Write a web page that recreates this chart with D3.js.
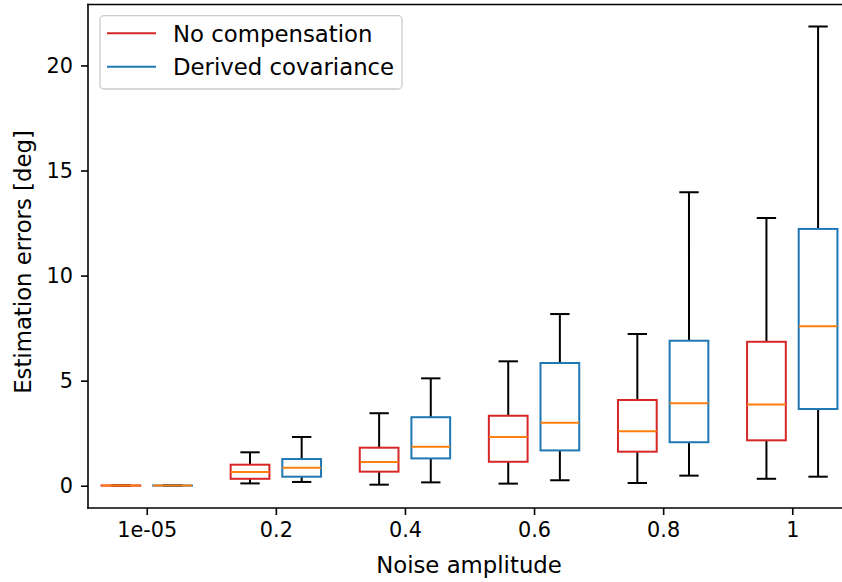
<!DOCTYPE html>
<html>
<head>
<meta charset="utf-8">
<script src="https://cdn.jsdelivr.net/npm/d3@7"></script>
<style>
  html, body { margin: 0; padding: 0; background: #fff; }
  svg { display: block; font-family: "DejaVu Sans", sans-serif; }
</style>
</head>
<body>
<svg id="chart" width="842" height="582"></svg>
<script>
// Noise amplitude levels (categorical x positions 1..6)
const categories = ["1e-05", "0.2", "0.4", "0.6", "0.8", "1"];

// Box statistics per level: lower whisker, Q1, median, Q3, upper whisker [deg]
const noCompLow    = [0.003, 0.11, 0.05, 0.10, 0.13, 0.33];
const noCompQ1     = [0.005, 0.33, 0.67, 1.14, 1.62, 2.16];
const noCompMedian = [0.007, 0.65, 1.13, 2.32, 2.59, 3.86];
const noCompQ3     = [0.010, 1.00, 1.81, 3.33, 4.08, 6.85];
const noCompHigh   = [0.020, 1.59, 3.45, 5.92, 7.22, 12.74];

const derivLow     = [0.003, 0.18, 0.16, 0.26, 0.48, 0.43];
const derivQ1      = [0.005, 0.43, 1.30, 1.68, 2.07, 3.65];
const derivMedian  = [0.007, 0.86, 1.86, 3.00, 3.92, 7.59];
const derivQ3      = [0.010, 1.27, 3.26, 5.84, 6.90, 12.22];
const derivHigh    = [0.020, 2.32, 5.11, 8.17, 13.96, 21.85];

const yTicks = [0, 5, 10, 15, 20];
const seriesNames = ["No compensation", "Derived covariance"];

const svg = d3.select("#chart");
const TICK_FONT = 20.8;
const LABEL_FONT = 22.8;
const M = { left: 88, right: 851, top: 4.5, bottom: 508 };

const x = d3.scaleLinear().domain([0.545, 6.455]).range([M.left, M.right]);
const y = d3.scaleLinear().domain([-1.06, 22.9]).range([M.bottom, M.top]);

const series = [
  { name: seriesNames[0], color: "#d62728", offset: -0.2,
    low: noCompLow, q1: noCompQ1, med: noCompMedian, q3: noCompQ3, high: noCompHigh },
  { name: seriesNames[1], color: "#1f77b4", offset: 0.2,
    low: derivLow, q1: derivQ1, med: derivMedian, q3: derivQ3, high: derivHigh }
];

const boxW = 0.3;      // box width in data units
const capW = boxW / 2; // whisker cap width

svg.append("clipPath").attr("id", "plotClip")
  .append("rect").attr("x", M.left).attr("y", M.top)
  .attr("width", M.right - M.left).attr("height", M.bottom - M.top);

const plot = svg.append("g").attr("clip-path", "url(#plotClip)");

series.forEach(s => {
  categories.forEach((c, i) => {
    const pos = i + 1 + s.offset;
    const g = plot.append("g");
    // whiskers
    g.append("line").attr("x1", x(pos)).attr("x2", x(pos))
      .attr("y1", y(s.q1[i])).attr("y2", y(s.low[i]))
      .attr("stroke", "#000").attr("stroke-width", 2);
    g.append("line").attr("x1", x(pos)).attr("x2", x(pos))
      .attr("y1", y(s.q3[i])).attr("y2", y(s.high[i]))
      .attr("stroke", "#000").attr("stroke-width", 2);
    // caps
    [s.low[i], s.high[i]].forEach(v => {
      g.append("line").attr("x1", x(pos - capW / 2)).attr("x2", x(pos + capW / 2))
        .attr("y1", y(v)).attr("y2", y(v))
        .attr("stroke", "#000").attr("stroke-width", 2);
    });
    // box
    g.append("rect")
      .attr("x", x(pos - boxW / 2)).attr("width", x(pos + boxW / 2) - x(pos - boxW / 2))
      .attr("y", y(s.q3[i])).attr("height", Math.max(0, y(s.q1[i]) - y(s.q3[i])))
      .attr("fill", "none").attr("stroke", s.color).attr("stroke-width", 2);
    // median
    g.append("line").attr("x1", x(pos - boxW / 2)).attr("x2", x(pos + boxW / 2))
      .attr("y1", y(s.med[i])).attr("y2", y(s.med[i]))
      .attr("stroke", "#ff7f0e").attr("stroke-width", 2);
  });
});

// axes
const xAxis = d3.axisBottom(x)
  .tickValues(categories.map((c, i) => i + 1))
  .tickFormat((d, i) => categories[i])
  .tickSize(7).tickPadding(7);
const yAxis = d3.axisLeft(y)
  .tickValues(yTicks).tickFormat(d3.format("d"))
  .tickSize(7).tickPadding(8);

const gx = svg.append("g").attr("transform", `translate(0,${M.bottom})`).call(xAxis);
const gy = svg.append("g").attr("transform", `translate(${M.left},0)`).call(yAxis);
[gx, gy].forEach(g => {
  g.select(".domain").remove();
  g.selectAll(".tick line").attr("stroke", "#000").attr("stroke-width", 1.6);
  g.selectAll(".tick text").attr("fill", "#000")
    .style("font-family", "DejaVu Sans").style("font-size", TICK_FONT + "px");
});

// spines (top, bottom, left)
const spine = svg.append("g").attr("stroke", "#000").attr("stroke-width", 1.6)
  .attr("stroke-linecap", "square");
spine.append("line").attr("x1", M.left).attr("x2", 842).attr("y1", M.bottom).attr("y2", M.bottom);
spine.append("line").attr("x1", M.left).attr("x2", 842).attr("y1", M.top).attr("y2", M.top);
spine.append("line").attr("x1", M.left).attr("x2", M.left).attr("y1", M.top).attr("y2", M.bottom);

// axis labels
svg.append("text").attr("x", 469).attr("y", 573)
  .attr("text-anchor", "middle").style("font-size", LABEL_FONT + "px")
  .text("Noise amplitude");
svg.append("text")
  .attr("transform", `translate(31,262) rotate(-90)`)
  .attr("text-anchor", "middle").style("font-size", LABEL_FONT + "px")
  .text("Estimation errors [deg]");

// legend
const leg = svg.append("g");
leg.append("rect").attr("x", 100).attr("y", 15.7).attr("width", 302).attr("height", 73.3)
  .attr("rx", 4).attr("fill", "#fff").attr("fill-opacity", 0.8)
  .attr("stroke", "#cccccc").attr("stroke-width", 1.3);
series.forEach((s, k) => {
  const ly = 33.3 + k * 33.4;
  leg.append("line").attr("x1", 107).attr("x2", 156).attr("y1", ly).attr("y2", ly)
    .attr("stroke", s.color).attr("stroke-width", 2);
  leg.append("text").attr("x", 173).attr("y", ly).attr("dy", "0.36em")
    .style("font-size", LABEL_FONT + "px").text(s.name);
});
</script>
</body>
</html>
